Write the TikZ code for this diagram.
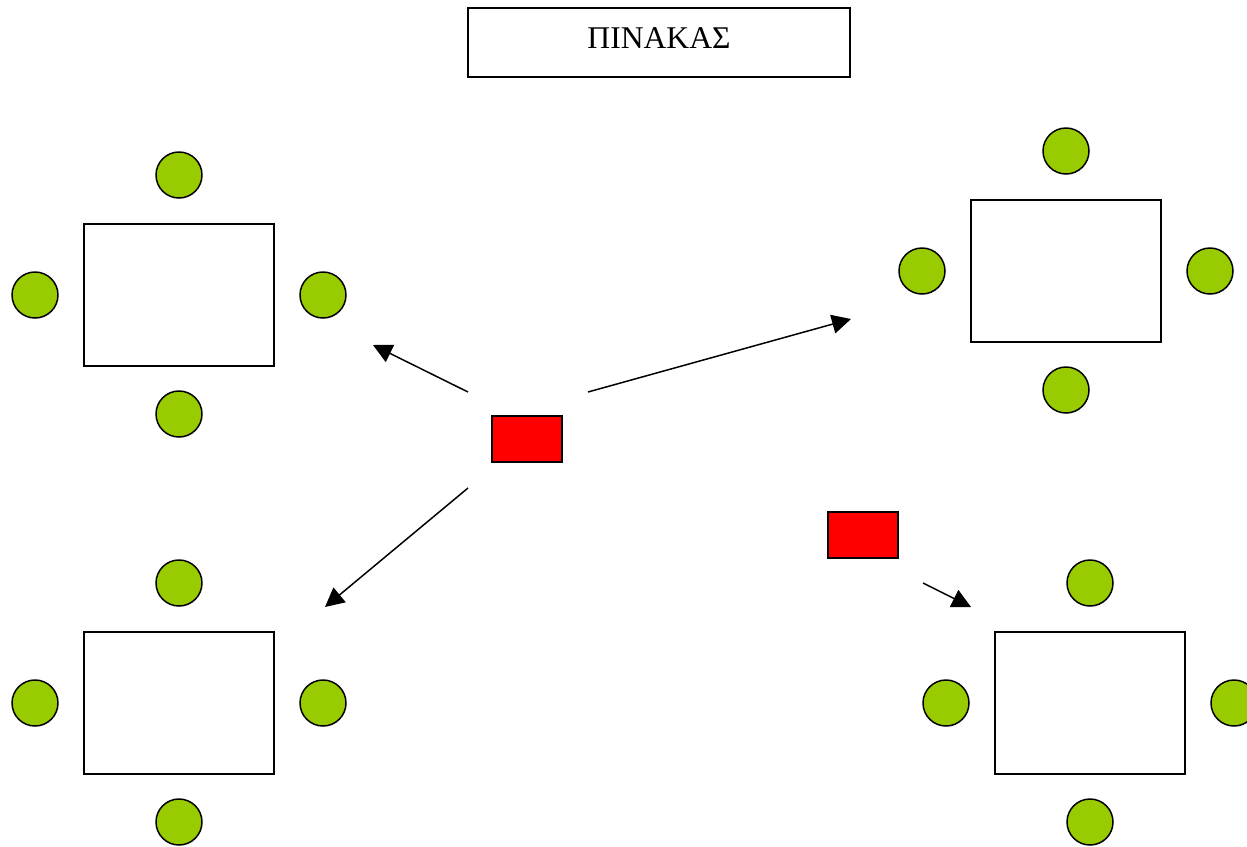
\documentclass[tikz,border=0pt]{standalone}
\usepackage{fontspec}
\setmainfont{Liberation Serif}
\usetikzlibrary{arrows.meta}
\definecolor{seat}{RGB}{153,204,0}
\definecolor{desk}{RGB}{255,0,0}

\begin{document}
\begin{tikzpicture}[x=0.02cm, y=-0.02cm, line width=0.85pt,
    >={Triangle[length=0.38cm,width=0.38cm]}]
    \tikzset{
        tablebox/.style={draw, fill=white, minimum width=3.8cm, minimum height=2.84cm, inner sep=0pt, outer sep=0pt},
        chair/.style={circle, draw, fill=seat, minimum size=0.92cm, inner sep=0pt},
        teacher/.style={draw, fill=desk, minimum width=1.4cm, minimum height=0.92cm, inner sep=0pt},
        board/.style={draw, minimum width=7.64cm, minimum height=1.38cm, text depth=0.18cm, inner sep=0pt,
            font=\fontsize{18}{21}\selectfont}
    }
    \clip (0,0) rectangle (1247,846);
    \fill[white] (0,0) rectangle (1247,846);

    % Pinakas
    \node[board] (pinakas) at (659,42.5) {ΠΙΝΑΚΑΣ};

    % Tables with chairs
    \foreach \t/\x/\y in {tl/179/295, tr/1066/271, bl/179/703, br/1090/703} {
        \node[tablebox] (\t) at (\x,\y) {};
        \node[chair] (\t-n) at (\x,\y-120) {};
        \node[chair] (\t-s) at (\x,\y+119) {};
        \node[chair] (\t-w) at (\x-144,\y) {};
        \node[chair] (\t-e) at (\x+144,\y) {};
    }

    % Teacher desks
    \node[teacher] (desk1) at (527,439) {};
    \node[teacher] (desk2) at (863,535) {};

    % Arrows
    \coordinate (a1s) at (468,392);
    \coordinate (a1e) at (373,345);
    \coordinate (a2s) at (588,392);
    \coordinate (a2e) at (851,319);
    \coordinate (a3s) at (468,488);
    \coordinate (a3e) at (325,607);
    \coordinate (a4s) at (923,583);
    \coordinate (a4e) at (971,607);
    \draw[->] (a1s) -- (a1e);
    \draw[->] (a2s) -- (a2e);
    \draw[->] (a3s) -- (a3e);
    \draw[->] (a4s) -- (a4e);
\end{tikzpicture}
\end{document}
